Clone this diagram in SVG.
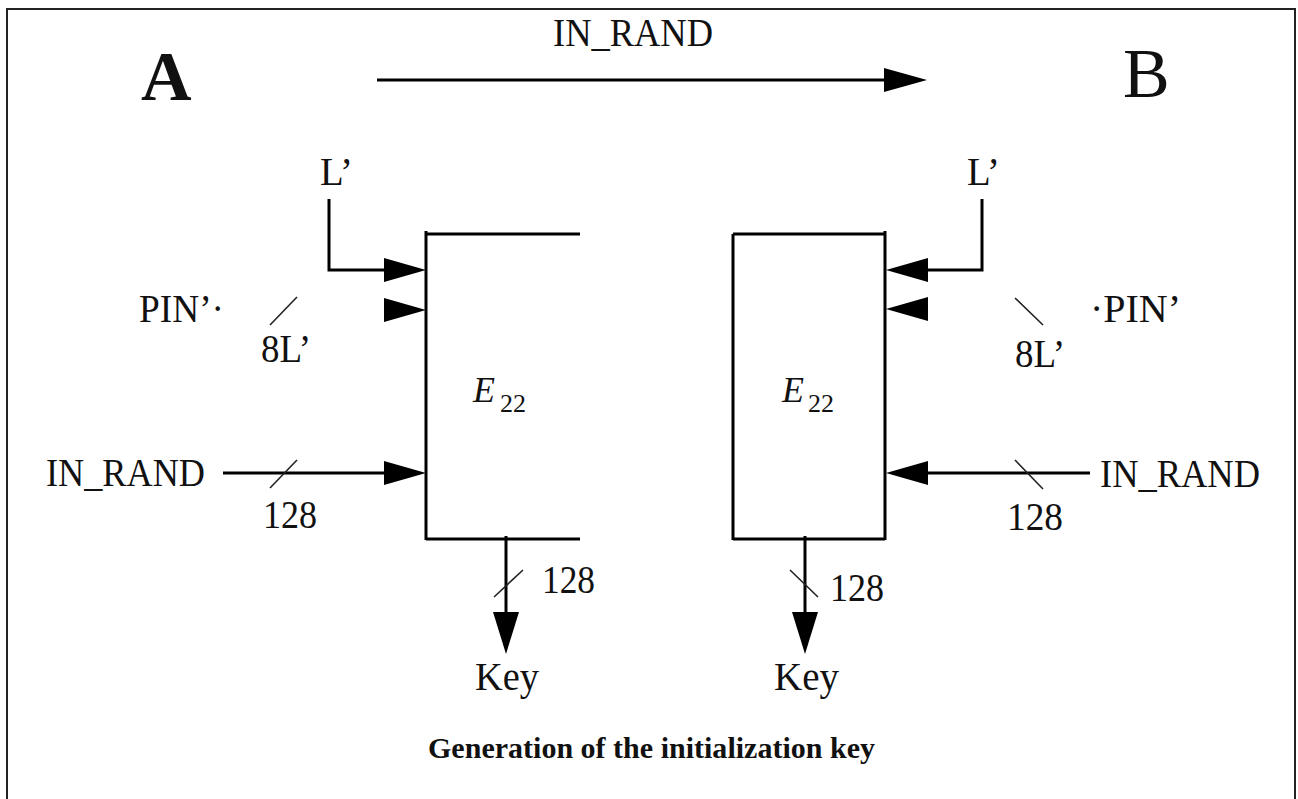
<svg xmlns="http://www.w3.org/2000/svg" width="1298" height="799" viewBox="0 0 1298 799">
<style>
text{font-family:"Liberation Serif","Times New Roman",serif;fill:#111}
.lbl{font-size:40px}
.big{font-size:70px}
.ln{stroke:#000;stroke-width:3;fill:none}
.tick{stroke:#222;stroke-width:1.6;fill:none}
.ah{fill:#000}
</style>
<rect width="1298" height="799" fill="#fff"/>
<rect x="7" y="9" width="1288" height="810" fill="none" stroke="#222" stroke-width="2"/>

<g id="top">
<text x="553" y="46" font-size="39" textLength="160" lengthAdjust="spacingAndGlyphs">IN_RAND</text>
<text x="141" y="100" class="big" font-weight="bold">A</text>
<text x="1123" y="97" class="big">B</text>
</g>

<g id="boxA">
<path class="ln" d="M426,231 V540 M426,234 H580 M426,539 H580"/>
<text x="473" y="402" font-size="36" font-style="italic">E</text>
<text x="500" y="412" font-size="26">22</text>
</g>

<g id="boxB">
<path class="ln" d="M733,234 H885 M733,234 V540 M733,539 H885 M885,231 V540"/>
<text x="782" y="402" font-size="36" font-style="italic">E</text>
<text x="808" y="412" font-size="26">22</text>
</g>

<g id="labelsA">
<text x="320" y="185" class="lbl" textLength="33" lengthAdjust="spacingAndGlyphs">L’</text>
<text x="139" y="322" class="lbl" textLength="85" lengthAdjust="spacingAndGlyphs">PIN’·</text>
<text x="261" y="362" class="lbl" textLength="50" lengthAdjust="spacingAndGlyphs">8L’</text>
<text x="46" y="486" font-size="39" textLength="159" lengthAdjust="spacingAndGlyphs">IN_RAND</text>
<text x="263" y="528" class="lbl" textLength="54" lengthAdjust="spacingAndGlyphs">128</text>
<text x="542" y="593" class="lbl" textLength="53" lengthAdjust="spacingAndGlyphs">128</text>
<text x="475" y="690" class="lbl" textLength="64" lengthAdjust="spacingAndGlyphs">Key</text>
</g>

<g id="labelsB">
<text x="967" y="185" class="lbl" textLength="33" lengthAdjust="spacingAndGlyphs">L’</text>
<text x="1090" y="322" class="lbl" textLength="91" lengthAdjust="spacingAndGlyphs">·PIN’</text>
<text x="1015" y="367" class="lbl" textLength="50" lengthAdjust="spacingAndGlyphs">8L’</text>
<text x="1100" y="487" font-size="39" textLength="160" lengthAdjust="spacingAndGlyphs">IN_RAND</text>
<text x="1007" y="530" class="lbl" textLength="56" lengthAdjust="spacingAndGlyphs">128</text>
<text x="830" y="601" class="lbl" textLength="54" lengthAdjust="spacingAndGlyphs">128</text>
<text x="774" y="690" class="lbl" textLength="65" lengthAdjust="spacingAndGlyphs">Key</text>
</g>

<g id="connectors">
<path class="ln" d="M377,80 H886"/>
<polygon class="ah" points="884,68 927,80 884,92"/>
<path class="ln" d="M329,199 V270 H386"/>
<polygon class="ah" points="384,258 426,270 384,282"/>
<polygon class="ah" points="384,298 426,310 384,322"/>
<path class="tick" d="M270,325 L297,297"/>
<path class="ln" d="M223,473 H386"/>
<polygon class="ah" points="384,461 426,473 384,485"/>
<path class="tick" d="M270,488 L297,460"/>
<path class="ln" d="M506,536 V614"/>
<polygon class="ah" points="493,612 519,612 506,654"/>
<path class="tick" d="M494,597 L523,570"/>
<path class="ln" d="M982,199 V270 H926"/>
<polygon class="ah" points="928,258 886,270 928,282"/>
<polygon class="ah" points="928,297 886,309 928,321"/>
<path class="tick" d="M1015,298 L1043,325"/>
<path class="ln" d="M1090,473 H926"/>
<polygon class="ah" points="928,461 886,473 928,485"/>
<path class="tick" d="M1015,460 L1043,489"/>
<path class="ln" d="M805,536 V614"/>
<polygon class="ah" points="792,612 818,612 805,654"/>
<path class="tick" d="M790,570 L818,597"/>
</g>

<g id="caption">
<text x="428" y="758" font-size="29" font-weight="bold" textLength="447" lengthAdjust="spacingAndGlyphs">Generation of the initialization key</text>
</g>
</svg>
